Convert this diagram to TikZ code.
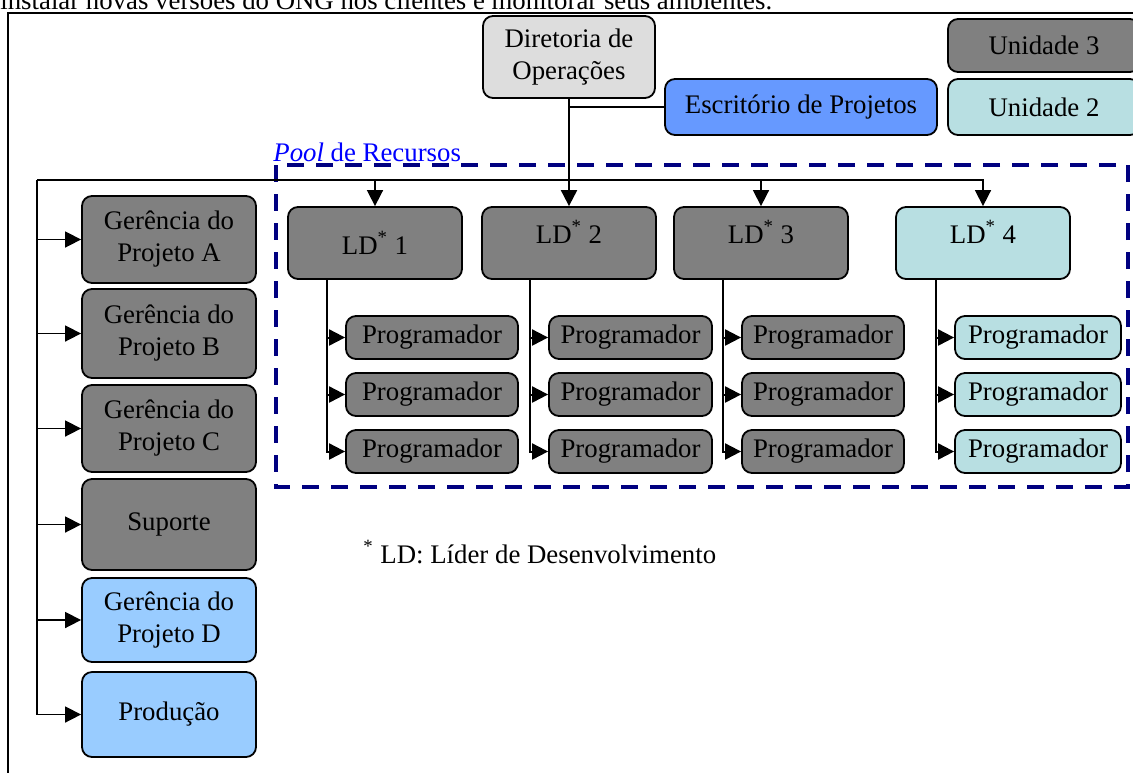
\documentclass[tikz,border=0pt]{standalone}
\usepackage{fontspec}
\setmainfont{Liberation Serif}
\usepackage{tikz}
\usetikzlibrary{arrows.meta,positioning}
\usepackage{xcolor}
\definecolor{unitgray}{RGB}{128,128,128}
\definecolor{unitcyan}{RGB}{184,223,226}
\definecolor{dirgray}{RGB}{221,221,221}
\definecolor{escblue}{RGB}{102,153,255}
\definecolor{projblue}{RGB}{153,204,255}
\definecolor{poolnavy}{RGB}{0,0,128}
\definecolor{poolblue}{RGB}{0,0,255}

\begin{document}
\begin{tikzpicture}[x=0.5pt, y=-0.5pt, >={Triangle[length=8pt,width=8pt]},
      font=\fontsize{13.4}{16}\selectfont,
      box/.style={draw, line width=0.9pt, rounded corners=5pt, align=center,
                  inner sep=0pt},
      unit3/.style={box, fill=unitgray},
      unit2/.style={box, fill=unitcyan},
      lead/.style={minimum width=87pt, minimum height=36pt},
      ldup/.style={text depth=11pt},
      prog/.style={minimum height=21.5pt},
      gerb/.style={minimum width=87pt},
      arr/.style={->, line width=1pt},
      bus/.style={->, line width=0.8pt},
      pool/.style={draw=poolnavy, line width=2pt,
                   dash pattern=on 8.5pt off 6pt}
    ]
    \useasboundingbox (0,0) rectangle (1133,772);
    \clip (0,0) rectangle (1133,772);

    % text above and page frame
    \node[anchor=base west, inner sep=0pt] (intro) at (0,9)
      {instalar novas versões do ONG nos clientes e monitorar seus ambientes.};
    \draw[line width=0.8pt] (1140,13) -- (8,13) -- (8,780);

    % top of the chart and legend
    \node[box, fill=dirgray, minimum width=86pt, minimum height=41pt] (dir)
      at (569,57) {Diretoria de\\Operações};
    \node[box, fill=escblue, minimum width=136pt, minimum height=28pt] (esc)
      at (801,107) {Escritório de Projetos};
    \node[unit3, minimum width=96pt, minimum height=26.5pt] (un3)
      at (1044,45.5) {Unidade 3};
    \node[unit2, minimum width=96pt, minimum height=28pt] (un2)
      at (1044,107) {Unidade 2};

    % pool
    \draw[pool] (276,165) rectangle (1128,487);
    \node[anchor=base west, inner sep=0pt, text=poolblue] (poollbl)
      at (273,161) {\textit{Pool} de Recursos};

    % leaders
    \node[unit3, lead] (ld1) at (375,243) {LD\textsuperscript{*} 1};
    \node[unit3, lead, ldup] (ld2) at (569,243) {LD\textsuperscript{*} 2};
    \node[unit3, lead, ldup] (ld3) at (761,243) {LD\textsuperscript{*} 3};
    \node[unit2, lead, ldup] (ld4) at (983,243) {LD\textsuperscript{*} 4};

    % programmers
    \node[unit3, prog, minimum width=86pt] (p11) at (432,337.5) {Programador};
    \node[unit3, prog, minimum width=86pt] (p12) at (432,394.5) {Programador};
    \node[unit3, prog, minimum width=86pt] (p13) at (432,451.5) {Programador};
    \node[unit3, prog, minimum width=81.5pt] (p21) at (630.5,337.5) {Programador};
    \node[unit3, prog, minimum width=81.5pt] (p22) at (630.5,394.5) {Programador};
    \node[unit3, prog, minimum width=81.5pt] (p23) at (630.5,451.5) {Programador};
    \node[unit3, prog, minimum width=81pt] (p31) at (823,337.5) {Programador};
    \node[unit3, prog, minimum width=81pt] (p32) at (823,394.5) {Programador};
    \node[unit3, prog, minimum width=81pt] (p33) at (823,451.5) {Programador};
    \node[unit2, prog, minimum width=83pt] (p41) at (1038,337.5) {Programador};
    \node[unit2, prog, minimum width=83pt] (p42) at (1038,394.5) {Programador};
    \node[unit2, prog, minimum width=83pt] (p43) at (1038,451.5) {Programador};

    % left column
    \node[unit3, gerb, minimum height=43.5pt] (gA) at (169,239.5) {Gerência do\\Projeto A};
    \node[unit3, gerb, minimum height=44.5pt] (gB) at (169,333.5) {Gerência do\\Projeto B};
    \node[unit3, gerb, minimum height=43.5pt] (gC) at (169,428.5) {Gerência do\\Projeto C};
    \node[unit3, gerb, minimum height=45.5pt] (sup) at (169,524.5) {Suporte};
    \node[box, fill=projblue, gerb, minimum height=42pt] (gD) at (169,620) {Gerência do\\Projeto D};
    \node[box, fill=projblue, gerb, minimum height=42.5pt] (prod) at (169,714.5) {Produção};

    \node[anchor=base west, inner sep=0pt] (nota) at (363,563)
      {\textsuperscript{*} LD: Líder de Desenvolvimento};

    % connectors
    \draw[arr] (dir) -- (ld2);
    \draw[line width=1pt] (esc.west) -- (esc.west -| dir.south);

    \coordinate (bus) at (37,180);
    \draw[bus] (bus) -| (ld4.north);
    \draw[bus] (ld1.north |- bus) -- (ld1.north);
    \draw[bus] (ld3.north |- bus) -- (ld3.north);
    \draw[bus] (bus) |- (prod.west);
    \draw[bus] (bus |- gA.west) -- (gA.west);
    \draw[bus] (bus |- gB.west) -- (gB.west);
    \draw[bus] (bus |- gC.west) -- (gC.west);
    \draw[bus] (bus |- sup.west) -- (sup.west);
    \draw[bus] (bus |- gD.west) -- (gD.west);

    \coordinate (d1) at (327,279);
    \coordinate (d2) at (530,279);
    \coordinate (d3) at (723,279);
    \coordinate (d4) at (936,279);
    \draw[arr] (d1) |- (p13.west);
    \draw[arr] (d1 |- p11.west) -- (p11.west);
    \draw[arr] (d1 |- p12.west) -- (p12.west);
    \draw[arr] (d2) |- (p23.west);
    \draw[arr] (d2 |- p21.west) -- (p21.west);
    \draw[arr] (d2 |- p22.west) -- (p22.west);
    \draw[arr] (d3) |- (p33.west);
    \draw[arr] (d3 |- p31.west) -- (p31.west);
    \draw[arr] (d3 |- p32.west) -- (p32.west);
    \draw[arr] (d4) |- (p43.west);
    \draw[arr] (d4 |- p41.west) -- (p41.west);
    \draw[arr] (d4 |- p42.west) -- (p42.west);
  \end{tikzpicture}
\end{document}
